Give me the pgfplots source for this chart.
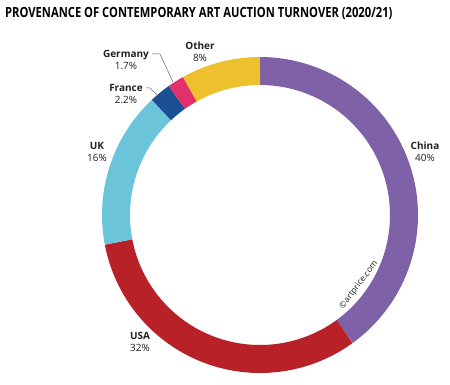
\documentclass[border=0pt]{standalone}
\usepackage{pgfplots}
\pgfplotsset{compat=1.18}
\usepackage{fontspec}
\setmainfont{Open Sans}
\definecolor{cChina}{HTML}{7E61A7}
\definecolor{cUSA}{HTML}{B82127}
\definecolor{cUK}{HTML}{6CC4DA}
\definecolor{cFrance}{HTML}{1B4E92}
\definecolor{cGermany}{HTML}{E1306C}
\definecolor{cOther}{HTML}{EEC02E}
\definecolor{txt}{HTML}{231F20}
% shares in percent
\def\pChina{40}
\def\pUSA{32}
\def\pUK{16}
\def\pFrance{2.2}
\def\pGermany{1.7}
\def\pOther{8}
\pgfmathsetmacro\aA{90}
\pgfmathsetmacro\aB{\aA-3.6*\pChina}
\pgfmathsetmacro\aC{\aB-3.6*\pUSA}
\pgfmathsetmacro\aD{\aC-3.6*\pUK}
\pgfmathsetmacro\aE{\aD-3.6*\pFrance}
\pgfmathsetmacro\aF{\aE-3.6*\pGermany}
\pgfmathsetmacro\aG{-270}
\begin{document}
\begin{tikzpicture}[
  lab/.style={font=\fontsize{10bp}{12bp}\selectfont, text=txt, align=center, inner sep=0pt},
]
\begin{axis}[
  width=450bp, height=384bp, scale only axis,
  xmin=-260, xmax=190, ymin=-169, ymax=215,
  hide axis, clip=false,
  ring/.style={data cs=polar, samples=80, line width=28bp, line cap=butt, no markers},
]
\path (rel axis cs:0,0) rectangle (rel axis cs:1,1);
\addplot[ring, cChina, domain=\aB:\aA] ({x},{144});
\addplot[ring, cUSA, domain=\aC:\aB] ({x},{144});
\addplot[ring, cUK, domain=\aD:\aC] ({x},{144});
\addplot[ring, cFrance, domain=\aE:\aD] ({x},{144});
\addplot[ring, cGermany, domain=\aF:\aE] ({x},{144});
\addplot[ring, cOther, domain=\aG:\aF] ({x},{144});
% title
\node[anchor=base west, inner sep=0pt] at (axis cs:-255,197)
  {\scalebox{0.80}[1]{\fontsize{14bp}{16bp}\selectfont\bfseries PROVENANCE OF CONTEMPORARY ART AUCTION TURNOVER (2020/21)}};
% labels
\node[lab] at (axis cs:165,63) {\textbf{China}\\40\%};
\node[lab] at (axis cs:-163,63) {\textbf{UK}\\16\%};
\node[lab] at (axis cs:-120,-127) {\textbf{USA}\\32\%};
\node[lab] at (axis cs:-134,155) {\textbf{Germany}\\1.7\%};
\node[lab] at (axis cs:-134,121) {\textbf{France}\\2.2\%};
\node[lab] at (axis cs:-60,163) {\textbf{Other}\\8\%};
\draw[gray!80!black, line width=0.5bp] (axis cs:-108,161) -- (axis cs:-100,161) -- (axis cs:-87,133);
\draw[gray!80!black, line width=0.5bp] (axis cs:-114,127) -- (axis cs:-110,127) -- (axis cs:-102,119);
\node[rotate=53, text=txt, inner sep=0pt, font=\fontsize{8.5bp}{10bp}\selectfont] at (axis cs:99,-70) {©artprice.com};
\end{axis}
\end{tikzpicture}
\end{document}
